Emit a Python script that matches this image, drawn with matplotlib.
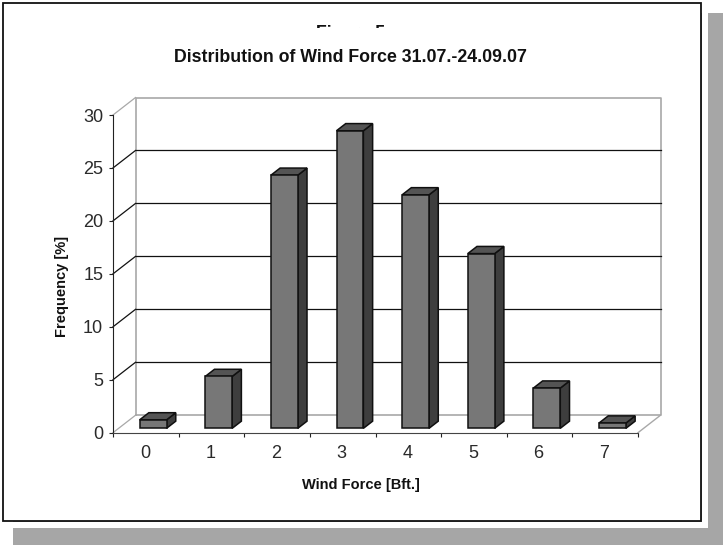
import matplotlib
matplotlib.use("Agg")
import matplotlib.pyplot as plt
from matplotlib.patches import Polygon, Rectangle

plt.rcParams['font.family'] = ['Liberation Sans', 'DejaVu Sans']

# wind force classes and how often they occurred
wind_force = [0, 1, 2, 3, 4, 5, 6, 7]
frequency = [0.8, 4.9, 23.9, 28.1, 22.05, 16.5, 3.8, 0.5]
y_ticks = [0, 5, 10, 15, 20, 25, 30]

W, H = 723, 545
DX, DY = 0.343, 1.65      # shift of the back wall in data units
BAR_W = 0.41


def proj(x, y, d):
    return (x + d * DX, y + d * DY)


def face(ax, pts, color, z):
    ax.add_patch(Polygon(pts, closed=True, fc=color, ec='#101010', lw=1.1,
                         zorder=z, clip_on=False, joinstyle='miter'))


fig = plt.figure(figsize=(W / 100, H / 100), dpi=100, facecolor='white')

# page frame and grey shadow, in pixels
bg = fig.add_axes([0, 0, 1, 1])
bg.set_xlim(0, W)
bg.set_ylim(H, 0)
bg.axis('off')
bg.add_patch(Rectangle((13, 13), W - 13, H - 13, fc='#a6a6a6', ec='none'))
bg.add_patch(Rectangle((3, 3), 698, 518, fc='white', ec='#111111', lw=1.3))
bg.add_patch(Rectangle((701.6, 3), 6.4, 525, fc='white', ec='none'))
bg.add_patch(Rectangle((3, 521.6), 705, 6, fc='white', ec='none'))

# front plane of the chart
ax = fig.add_axes([113 / W, 1 - 432.7 / H, 525 / W, 317.7 / H])
ax.patch.set_visible(False)
ax.set_xlim(-0.5, 7.5)
ax.set_ylim(0, 30)
for s in ['top', 'right']:
    ax.spines[s].set_visible(False)
ax.spines['left'].set_color('#222222')
ax.spines['bottom'].set_color('#444444')

# walls
x0, x1 = -0.5, 7.5
wall = '#a8a8a8'
ax.plot(*zip(proj(x0, 0, 1), proj(x0, 30, 1), proj(x1, 30, 1), proj(x1, 0, 1), proj(x0, 0, 1)),
        color=wall, lw=1.2, clip_on=False, zorder=1)
for t in y_ticks:
    c = '#111111' if 0 < t < 30 else wall
    ax.plot(*zip(proj(x0, t, 0), proj(x0, t, 1)), color=c, lw=0.9, clip_on=False, zorder=1)
    if 0 < t < 30:
        ax.plot(*zip(proj(x0, t, 1), proj(x1, t, 1)), color=c, lw=0.9, clip_on=False, zorder=1)
ax.plot(*zip(proj(x1, 0, 0), proj(x1, 0, 1)), color=wall, lw=1.0, clip_on=False, zorder=1)

# bars
for x, v in zip(wind_force, frequency):
    xa, xb = x - BAR_W / 2 + 0.025, x + BAR_W / 2 + 0.025
    d0, d1 = 0.25, 0.66
    face(ax, [proj(xb, 0, d0), proj(xb, 0, d1), proj(xb, v, d1), proj(xb, v, d0)], '#3e3e3e', 3 + x)
    face(ax, [proj(xa, v, d0), proj(xb, v, d0), proj(xb, v, d1), proj(xa, v, d1)], '#545454', 3 + x)
    face(ax, [proj(xa, 0, d0), proj(xb, 0, d0), proj(xb, v, d0), proj(xa, v, d0)], '#777777', 3 + x)

ax.set_yticks(y_ticks)
ax.set_xticks([i - 0.5 for i in range(9)])
ax.set_xticklabels([])
ax.tick_params(axis='x', length=3, direction='out', color='#222222')
ax.tick_params(axis='y', length=2.6, direction='out', color='#222222', labelsize=13,
               labelcolor='#2a2a2a', pad=4.5)
for x in wind_force:
    ax.text(x - 0.015, -1.95, str(x), ha='center', va='center', fontsize=13, color='#2a2a2a')

ax.set_ylabel('Frequency [%]', fontsize=10.5, fontweight='bold', color='#111111')
ax.yaxis.set_label_coords((69 - 113) / 525, 0.46)
bg.text(361, 485, 'Wind Force [Bft.]', ha='center', va='center', fontsize=10.5,
        fontweight='bold', color='#111111')
bg.text(350, 57, 'Distribution of Wind Force 31.07.-24.09.07', ha='center', va='center',
        fontsize=12.8, color='#111111', fontweight='bold')

# what is left of the cut-off heading
head = bg.text(351, 34, 'Figure 5', ha='center', va='center', fontsize=12.8,
               fontweight='bold', color='#111111')
head.set_clip_path(Rectangle((300, 23), 100, 4.5, transform=bg.transData))
head.set_clip_on(True)

fig.savefig('out.png', dpi=100)
